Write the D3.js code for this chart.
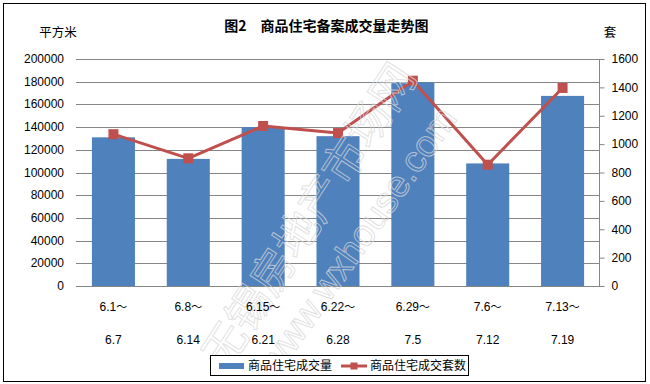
<!DOCTYPE html>
<html><head><meta charset="utf-8">
<script src="https://cdn.jsdelivr.net/npm/d3@7"></script>
<style>body{margin:0;background:#fff}svg{display:block}</style>
</head><body>
<script>
const categoriesLine1 = ["6.1","6.8","6.15","6.22","6.29","7.6","7.13"];
const categoriesLine2 = ["6.7","6.14","6.21","6.28","7.5","7.12","7.19"];
const areaValues = [131000, 112000, 140000, 132000, 179500, 108000, 167500];
const unitValues = [1070, 900, 1128, 1078, 1447, 855, 1396];
const leftTicks = [0,20000,40000,60000,80000,100000,120000,140000,160000,180000,200000];
const rightTicks = [0,200,400,600,800,1000,1200,1400,1600];
const seriesNames = ["商品住宅成交量","商品住宅成交套数"];
const title = "图2　商品住宅备案成交量走势图";

const W=650,H=384;
const svg=d3.select("body").append("svg").attr("width",W).attr("height",H);
const num="'Liberation Sans', Arial, sans-serif";
const cjk="'Noto Sans CJK SC', sans-serif";

svg.append("rect").attr("x",3.5).attr("y",3.5).attr("width",642).attr("height",378)
  .attr("fill","#fff").attr("stroke","#000").attr("stroke-width",1);

const x0=76,x1=600,yTop=59,yBot=286;
const x=d3.scaleBand().domain(d3.range(categoriesLine1.length)).range([x0,x1]).paddingInner(0.425).paddingOuter(0.2125);
const yL=d3.scaleLinear().domain([0,200000]).range([yBot,yTop]);
const yR=d3.scaleLinear().domain([0,1600]).range([yBot,yTop]);

// gridlines
svg.append("g").selectAll("line").data(leftTicks).join("line")
  .attr("x1",x0).attr("x2",x1).attr("y1",d=>Math.round(yL(d))+0.5).attr("y2",d=>Math.round(yL(d))+0.5)
  .attr("stroke","#868686").attr("stroke-width",1);

// left labels
svg.append("g").selectAll("text").data(leftTicks).join("text")
  .attr("x",64).attr("y",d=>yL(d)+4).attr("text-anchor","end")
  .attr("font-family",num).attr("font-size",12).attr("fill","#000").text(d=>d);

// right axis
const gR=svg.append("g").attr("transform",`translate(${x1-0.5},0)`);
const axR=d3.axisRight(yR).tickValues(rightTicks).tickSize(5).tickPadding(7).tickFormat(d=>d);
gR.call(axR);
gR.select(".domain").attr("stroke","#868686").attr("d",`M0,${yTop}V${yBot}`);
gR.selectAll(".tick line").attr("stroke","#868686");
gR.selectAll(".tick text").attr("font-family",num).attr("font-size",12).attr("fill","#000");

// bars
svg.append("g").selectAll("rect").data(areaValues).join("rect")
  .attr("x",(d,i)=>x(i)).attr("width",x.bandwidth())
  .attr("y",d=>yL(d)).attr("height",d=>yBot-yL(d)).attr("fill","#4F81BD");

// bottom axis line
svg.append("line").attr("x1",x0).attr("x2",x1).attr("y1",yBot+0.5).attr("y2",yBot+0.5).attr("stroke","#868686");

// line series
const cx=i=>x(i)+x.bandwidth()/2;
svg.append("path").datum(unitValues)
  .attr("d",d3.line().x((d,i)=>cx(i)).y(d=>yR(d)))
  .attr("fill","none").attr("stroke","#C0504D").attr("stroke-width",3).attr("stroke-linejoin","round");
svg.append("g").selectAll("rect").data(unitValues).join("rect")
  .attr("x",(d,i)=>cx(i)-5).attr("y",d=>yR(d)-5).attr("width",10).attr("height",10).attr("fill","#C0504D");

// watermark (on top)
const wm=svg.append("g").attr("fill","none").attr("stroke","rgba(215,215,215,0.75)").attr("stroke-width",1);
wm.append("text").attr("transform","translate(226,372) rotate(-57)").attr("font-family",cjk).attr("font-size",44).text("无锡房地产市场网");
wm.append("text").attr("transform","translate(278,376) rotate(-55)").attr("font-family",num).attr("font-size",37).text("www.wxhouse.com");

// x labels
const xl=svg.append("g").attr("font-family",num).attr("font-size",12).attr("fill","#000").attr("text-anchor","middle");
const t1=xl.selectAll("text.l1").data(categoriesLine1).join("text").attr("class","l1")
  .attr("x",(d,i)=>cx(i)).attr("y",311);
t1.append("tspan").text(d=>d);
t1.append("tspan").attr("font-family",cjk).attr("font-size",11).text("～");
xl.selectAll("text.l2").data(categoriesLine2).join("text").attr("class","l2")
  .attr("x",(d,i)=>cx(i)).attr("y",344).text(d=>d);

// titles
svg.append("text").attr("x",326.5).attr("y",31).attr("text-anchor","middle")
  .attr("font-family",cjk).attr("font-size",14).attr("font-weight","bold").text(title);
svg.append("text").attr("x",58).attr("y",37).attr("text-anchor","middle")
  .attr("font-family",cjk).attr("font-size",12.5).text("平方米");
svg.append("text").attr("x",610).attr("y",37).attr("text-anchor","middle")
  .attr("font-family",cjk).attr("font-size",12.5).text("套");

// legend
const lg=svg.append("g");
lg.append("rect").attr("x",210.5).attr("y",355.5).attr("width",258).attr("height",20).attr("fill","#fff").attr("stroke","#000");
lg.append("rect").attr("x",219).attr("y",363).attr("width",25).attr("height",6).attr("fill","#4F81BD");
lg.append("text").attr("x",248).attr("y",370).attr("font-family",cjk).attr("font-size",12).text(seriesNames[0]);
lg.append("line").attr("x1",341).attr("x2",367).attr("y1",366).attr("y2",366).attr("stroke","#C0504D").attr("stroke-width",3);
lg.append("rect").attr("x",350.5).attr("y",362.5).attr("width",7).attr("height",7).attr("fill","#C0504D");
lg.append("text").attr("x",370).attr("y",370).attr("font-family",cjk).attr("font-size",12).text(seriesNames[1]);
</script>
</body></html>
